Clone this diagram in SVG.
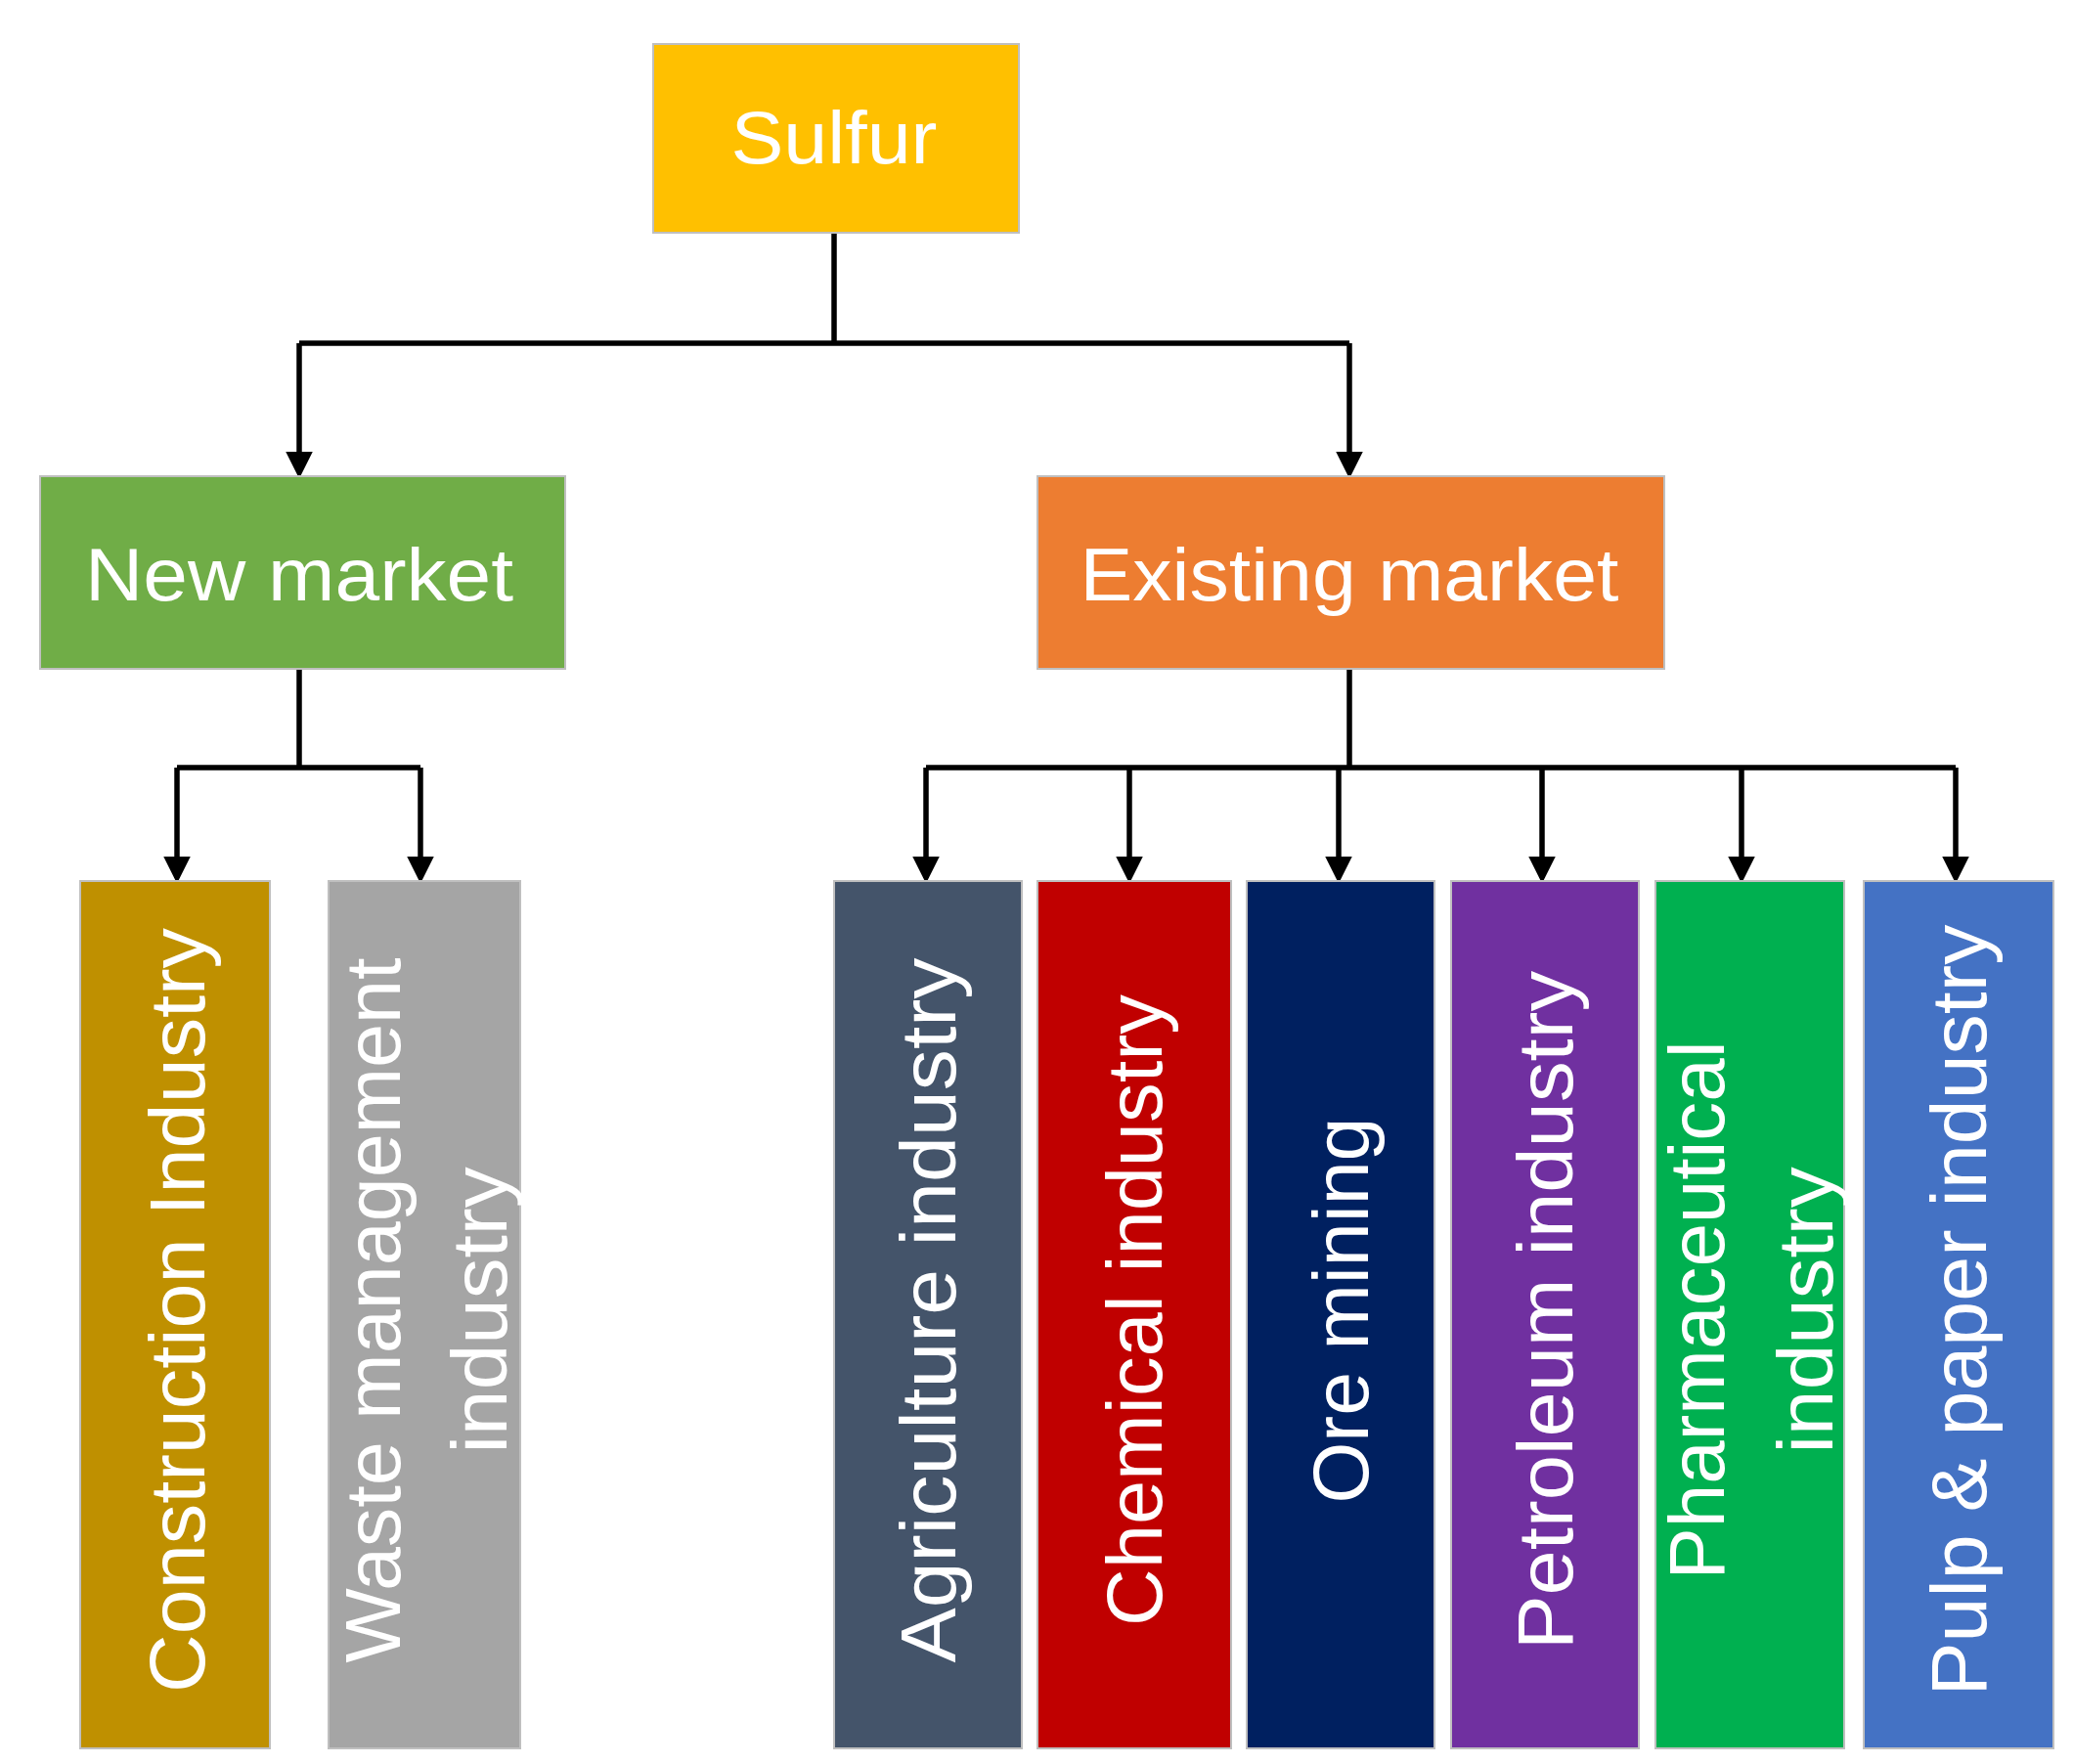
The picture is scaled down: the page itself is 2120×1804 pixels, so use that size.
<svg xmlns="http://www.w3.org/2000/svg" width="2120" height="1804" viewBox="0 0 2120 1804">
<style>
.box{stroke:#bfbfbf;stroke-width:2}
.t{font-family:"Liberation Sans",Arial,sans-serif;fill:#fff;text-anchor:middle}
.h{font-size:76px}
.v{font-size:80px}
.c{fill:none;stroke:#000;stroke-width:5.5;marker-end:url(#a)}
.l{fill:none;stroke:#000;stroke-width:5.5}
</style>
<defs><marker id="a" markerWidth="5" markerHeight="5" refX="4" refY="2.5" orient="auto" markerUnits="strokeWidth"><path d="M0,0 L5,2.5 L0,5 Z" fill="#000"/></marker></defs>
<rect width="2120" height="1804" fill="#fff"/>
<g id="connectors">
<path class="l" d="M853,238 V351 M306,351 H1380 M306,684 V785 M181,785 H430 M1380,684 V785 M947,785 H2000"/>
<path class="c" d="M306,351 V484"/>
<path class="c" d="M1380,351 V484"/>
<path class="c" d="M181,785 V898"/>
<path class="c" d="M430,785 V898"/>
<path class="c" d="M947,785 V898"/>
<path class="c" d="M1155,785 V898"/>
<path class="c" d="M1369,785 V898"/>
<path class="c" d="M1577,785 V898"/>
<path class="c" d="M1781,785 V898"/>
<path class="c" d="M2000,785 V898"/>
</g>
<g id="sulfur"><rect class="box" x="668" y="45" width="374" height="193" fill="#FFC000"/><text class="t h" x="853" y="167" textLength="211" lengthAdjust="spacingAndGlyphs">Sulfur</text></g>
<g id="new"><rect class="box" x="41" y="487" width="537" height="197" fill="#70AD47"/><text class="t h" x="306" y="614" textLength="438" lengthAdjust="spacingAndGlyphs">New market</text></g>
<g id="existing"><rect class="box" x="1061" y="487" width="641" height="197" fill="#ED7D31"/><text class="t h" x="1380" y="614" textLength="551" lengthAdjust="spacingAndGlyphs">Existing market</text></g>
<g id="construction"><rect class="box" x="82" y="901" width="194" height="887" fill="#BF9000"/><text class="t v" transform="translate(181,1340) rotate(-90)" y="28" textLength="782" lengthAdjust="spacingAndGlyphs">Construction Industry</text></g>
<g id="waste"><rect class="box" x="336" y="901" width="196" height="887" fill="#A5A5A5"/><text class="t v" transform="translate(381,1340) rotate(-90)" y="28" textLength="721" lengthAdjust="spacingAndGlyphs">Waste management</text><text class="t v" transform="translate(490,1340) rotate(-90)" y="28" textLength="293" lengthAdjust="spacingAndGlyphs">industry</text></g>
<g id="agriculture"><rect class="box" x="853" y="901" width="192" height="887" fill="#44546A"/><text class="t v" transform="translate(949,1340) rotate(-90)" y="28" textLength="721" lengthAdjust="spacingAndGlyphs">Agriculture industry</text></g>
<g id="chemical"><rect class="box" x="1061" y="901" width="198" height="887" fill="#C00000"/><text class="t v" transform="translate(1160,1340) rotate(-90)" y="28" textLength="646" lengthAdjust="spacingAndGlyphs">Chemical industry</text></g>
<g id="ore"><rect class="box" x="1275" y="901" width="192" height="887" fill="#002060"/><text class="t v" transform="translate(1371,1340) rotate(-90)" y="28" textLength="395" lengthAdjust="spacingAndGlyphs">Ore mining</text></g>
<g id="petroleum"><rect class="box" x="1484" y="901" width="192" height="887" fill="#7030A0"/><text class="t v" transform="translate(1580,1340) rotate(-90)" y="28" textLength="694" lengthAdjust="spacingAndGlyphs">Petroleum industry</text></g>
<g id="pharma"><rect class="box" x="1693" y="901" width="193" height="887" fill="#00B050"/><text class="t v" transform="translate(1735,1340) rotate(-90)" y="28" textLength="551" lengthAdjust="spacingAndGlyphs">Pharmaceutical</text><text class="t v" transform="translate(1846,1340) rotate(-90)" y="28" textLength="293" lengthAdjust="spacingAndGlyphs">industry</text></g>
<g id="pulp"><rect class="box" x="1906" y="901" width="194" height="887" fill="#4472C4"/><text class="t v" transform="translate(2003,1340) rotate(-90)" y="28" textLength="789" lengthAdjust="spacingAndGlyphs">Pulp &amp; paper industry</text></g>
</svg>
